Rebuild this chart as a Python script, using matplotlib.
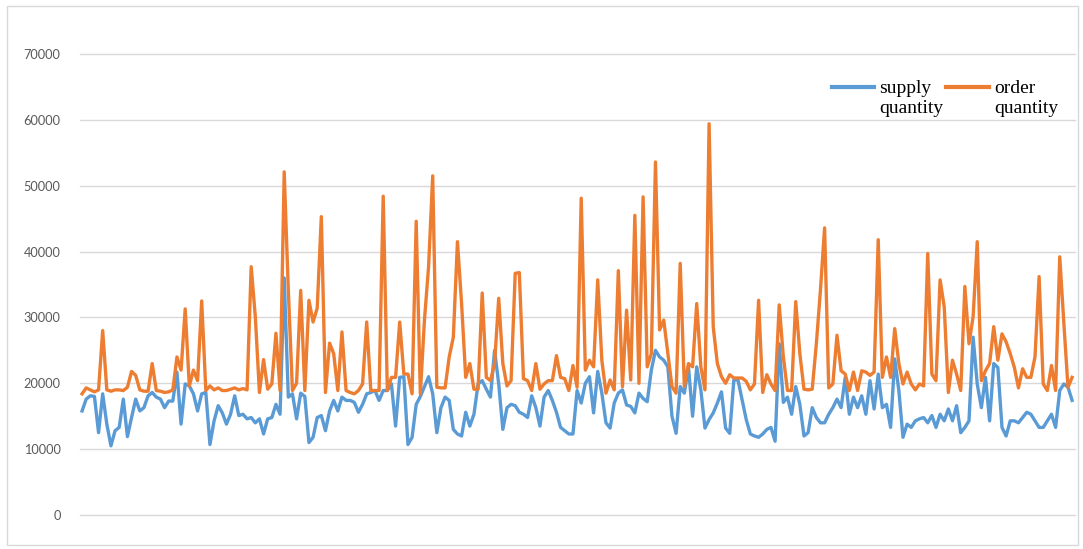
import numpy as np
import matplotlib
matplotlib.use("Agg")
import matplotlib.pyplot as plt
from matplotlib.legend_handler import HandlerLine2D
from matplotlib.patches import Rectangle

# daily order and supply quantities
order_qty = [
    18400, 19300, 19000, 18700, 19000, 28000, 19000, 18800, 19000, 19000,
    18900, 19400, 21800, 21200, 19000, 18800, 18800, 23000, 18900, 18800,
    18600, 18700, 19000, 24000, 22000, 31300, 19600, 22000, 20400, 32500,
    18900, 19600, 19000, 19300, 18900, 18900, 19100, 19300, 19000, 19200,
    19000, 37700, 30100, 18600, 23600, 19100, 19900, 27600, 18900, 52100,
    34100, 18900, 20000, 34100, 18900, 32600, 29300, 31400, 45300, 18600,
    26100, 24500, 18900, 27800, 18900, 18600, 18400, 18900, 19900, 29300,
    18900, 18900, 18900, 48400, 18900, 20900, 20900, 29300, 21400, 21400,
    18400, 44600, 18400, 29600, 37700, 51500, 19400, 19300, 19300, 24000,
    27000, 41500, 32100, 20900, 23000, 19100, 19100, 33700, 20900, 20400,
    23000, 32900, 23000, 19600, 20400, 36700, 36800, 20700, 20400, 18900,
    23000, 19100, 19900, 20400, 20400, 24200, 20900, 20700, 18900, 22700,
    19400, 48100, 22000, 23500, 22500, 35700, 23500, 18500, 20500, 19000,
    37100, 19500, 31100, 20500, 45500, 20000, 48300, 22500, 24500, 53600,
    28100, 29600, 24500, 19500, 18500, 38200, 19500, 23000, 22500, 32100,
    22500, 19000, 59400, 28600, 23000, 21000, 20000, 21300, 20800, 20800,
    20800, 20300, 19000, 19900, 32600, 18600, 21300, 19900, 18900, 31900,
    24000, 18900, 18900, 32400, 24500, 19100, 19000, 19100, 26000, 34200,
    43600, 19300, 19900, 27300, 21900, 21400, 18900, 21700, 18900, 21900,
    21700, 21200, 21700, 41800, 20900, 24000, 20900, 28300, 23000, 19900,
    21700, 19900, 19000, 19900, 19600, 39700, 21400, 20400, 35700, 31600,
    18600, 23500, 21400, 18900, 34700, 26000, 30100, 41500, 20400, 21900,
    23000, 28600, 23500, 27500, 26300, 24500, 22400, 19300, 22200, 20900,
    20900, 24000, 36200, 19900, 18900, 22700, 18900, 39200, 29100, 19400,
    20900,
]

supply_qty = [
    15800, 17600, 18100, 18000, 12500, 18400, 13800, 10500, 12800, 13300,
    17600, 11900, 14800, 17600, 15800, 16300, 18100, 18600, 17900, 17600,
    16300, 17300, 17300, 21700, 13800, 19900, 19600, 18400, 15800, 18400,
    18600, 10700, 14300, 16600, 15500, 13800, 15300, 18100, 15100, 15300,
    14600, 14800, 14000, 14600, 12300, 14600, 14800, 16800, 15300, 36000,
    17900, 18400, 14600, 18500, 18000, 11000, 11800, 14800, 15100, 12800,
    15800, 17400, 15800, 17900, 17400, 17400, 17100, 15600, 16800, 18400,
    18600, 18900, 17400, 18900, 18900, 19900, 13500, 20900, 21000, 10700,
    11800, 16800, 18000, 19500, 21000, 18400, 12500, 16300, 17900, 17400,
    13000, 12300, 12000, 15600, 13500, 15300, 19900, 20400, 19100, 17900,
    25000, 19900, 13000, 16300, 16800, 16600, 15600, 15300, 14800, 18100,
    16300, 13500, 17900, 18900, 17400, 15600, 13300, 12800, 12300, 12300,
    18900, 17000, 20000, 21000, 15500, 21800, 18500, 14000, 13200, 17000,
    18500, 19000, 16700, 16500, 15500, 18500, 17700, 17200, 22000, 25000,
    24000, 23500, 22500, 15000, 12400, 19500, 18500, 22500, 15000, 22500,
    19000, 13200, 14500, 15500, 17000, 18700, 13200, 12400, 20500, 20500,
    17500, 14500, 12300, 12000, 11800, 12300, 13000, 13300, 11200, 26000,
    17100, 17900, 15300, 19500, 16800, 12000, 12500, 16300, 14800, 14000,
    14000, 15300, 16300, 17600, 16300, 20900, 15300, 17900, 16300, 18100,
    15300, 20400, 16100, 21400, 16300, 16800, 13300, 23700, 18900, 11800,
    13800, 13300, 14300, 14600, 14800, 14000, 15100, 13300, 15300, 14300,
    16100, 14300, 16600, 12500, 13300, 14300, 27000, 19900, 16300, 20900,
    14300, 23000, 22400, 13300, 12000, 14300, 14300, 14000, 14800, 15600,
    15300, 14300, 13300, 13300, 14300, 15300, 13300, 18900, 19900, 19400,
    17400,
]

series_labels = ["supply\nquantity", "order\nquantity"]
y_ticks = [0, 10000, 20000, 30000, 40000, 50000, 60000, 70000]

days = np.arange(len(order_qty))


class UpperLineHandler(HandlerLine2D):
    # put the legend line level with the first text line
    def create_artists(self, legend, orig_handle, xdescent, ydescent,
                       width, height, fontsize, trans):
        artists = super().create_artists(legend, orig_handle, xdescent, ydescent,
                                         width, height, fontsize, trans)
        for a in artists:
            a.set_ydata(np.asarray(a.get_ydata()) + 0.55 * fontsize)
        return artists


fig = plt.figure(figsize=(10.83, 5.49), dpi=100)
ax = fig.add_axes([80 / 1083, 1 - 515 / 549, 995 / 1083, 461 / 549])

ax.plot(days, supply_qty, color="#5B9BD5", lw=2.4, label=series_labels[0],
        solid_joinstyle="round")
ax.plot(days, order_qty, color="#ED7D31", lw=2.4, label=series_labels[1],
        solid_joinstyle="round")

ax.set_ylim(0, 70000)
ax.set_xlim(-0.5, len(days) - 0.3)
ax.set_yticks(y_ticks)
ax.set_yticklabels([str(t) for t in y_ticks], fontfamily="Lato", fontsize=9.2,
                   color="#595959")
ax.set_xticks([])
ax.tick_params(axis="y", length=0, pad=14)
ax.grid(axis="y", color="#d9d9d9", lw=1)
for gl in ax.get_ygridlines():
    gl.set_clip_on(False)
ax.set_axisbelow(True)
for s in ax.spines.values():
    s.set_visible(False)

handles, labels = ax.get_legend_handles_labels()
leg = fig.legend(handles, labels, loc="upper right",
                 bbox_to_anchor=(1058 / 1083, 1 - 80 / 549),
                 ncol=2, frameon=False, handlelength=2.2, handletextpad=0.25,
                 columnspacing=0.15, borderpad=0, borderaxespad=0,
                 labelspacing=0.2,
                 prop={"family": "Liberation Serif", "size": 14},
                 handler_map={h: UpperLineHandler() for h in handles})
for line in leg.get_lines():
    line.set_linewidth(3)

# thin frame around the whole chart
fig.patches.append(Rectangle((7 / 1083, 4 / 549), 1071 / 1083, 539 / 549,
                             transform=fig.transFigure, fill=False,
                             edgecolor="#d9d9d9", lw=1))

fig.savefig("out.png", dpi=100)
